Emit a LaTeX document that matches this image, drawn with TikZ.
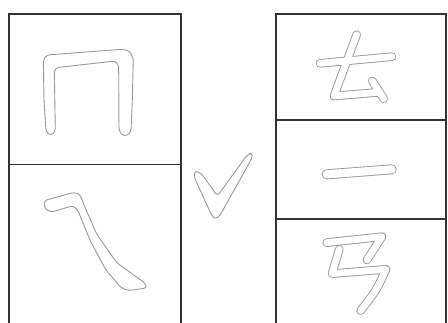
\documentclass[tikz,border=0pt]{standalone}
\begin{document}
\tikzset{
 frame/.style={draw=black!80, line width=1.4pt},
 outl/.style={draw=gray!80, line width=0.9pt, fill=white, line join=round, rounded corners=3pt},
 gstroke/.style={draw=gray!80, line width=8.6pt, line cap=round, line join=round},
 wstroke/.style={draw=white, line width=6.8pt, line cap=round, line join=round},
}
\newcommand\glyphQu{(290,104) -- (222,288) -- (355,277) (337,243) -- (371,296) (180,190) -- (396,170)}
\newcommand\glyphKao{(200,98) -- (366,80) -- (321,150) (238,118) -- (216,191) -- (378,178) .. controls (350,240) .. (302,302)}
\begin{tikzpicture}[x=1pt,y=-1pt]
\useasboundingbox (0,0) rectangle (448,322);
% frames
\draw[frame] (9,323) -- (9,14) -- (181,14) -- (181,323);
\draw[frame] (9,164.5) -- (181,164.5);
\draw[frame] (276,323) -- (276,14) -- (446,14) -- (446,323);
\draw[frame] (276,120) -- (446,120);
\draw[frame] (276,219) -- (446,219);
% glyph 1
\begin{scope}[shift={(0,0)},scale=0.3333]
\draw[outl] (152,407) -- (138,395) -- (132,300) -- (130,180) -- (140,165) -- (365,148) -- (388,152) -- (400,175) -- (397,300) -- (393,395) -- (380,408) -- (365,405) -- (357,390) -- (356,195) -- (345,183) -- (168,203) -- (163,215) -- (166,395) -- cycle;
\end{scope}
% glyph 2
\begin{scope}[shift={(0,160)},scale=0.3333]
\draw[outl] (132,122) -- (222,97) -- (240,103) -- (252,135) -- (290,222) -- (350,308) -- (436,370) -- (440,384) -- (385,392) -- (362,382) -- (318,330) -- (272,245) -- (234,152) -- (220,137) -- (155,156) -- (135,148) -- cycle;
\end{scope}
% check mark
\begin{scope}[shift={(180,140)},scale=0.3333]
\draw[outl] (45,92) -- (64,100) -- (112,168) -- (204,42) -- (218,40) -- (215,56) -- (120,226) -- (106,238) -- (95,226) -- (42,110) -- cycle;
\end{scope}
% glyph 3
\begin{scope}[shift={(260,0)},scale=0.3333]
\draw[gstroke] \glyphQu;
\draw[wstroke] \glyphQu;
\end{scope}
% glyph 4
\begin{scope}[shift={(260,110)},scale=0.3333]
\draw[gstroke, line width=10pt] (200,193) -- (395,178);
\draw[wstroke, line width=8.2pt] (200,193) -- (395,178);
\end{scope}
% glyph 5
\begin{scope}[shift={(260,210)},scale=0.3333]
\draw[gstroke] \glyphKao;
\draw[wstroke] \glyphKao;
\end{scope}
\end{tikzpicture}
\end{document}
